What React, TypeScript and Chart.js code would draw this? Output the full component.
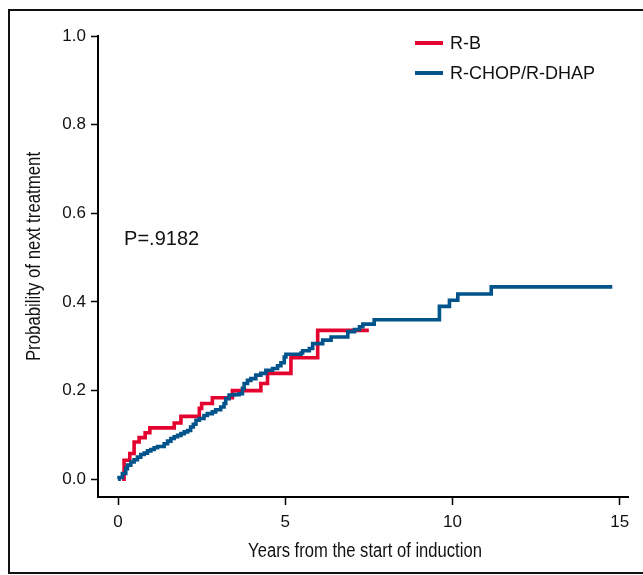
import React, { useEffect, useRef } from 'react';
import { Chart, registerables } from 'chart.js';

Chart.register(...registerables);

const SERIES_NAMES = ['R-B', 'R-CHOP/R-DHAP'];
const SERIES_COLORS = ['#E4032E', '#00538B'];

const RB_TIMES = [0.12, 0.18, 0.35, 0.48, 0.63, 0.81, 0.95, 1.68, 1.88, 2.43, 2.5, 2.82, 3.42, 4.27, 4.47, 5.17, 5.97, 7.5];
const RB_PROB = [0, 0.043, 0.058, 0.084, 0.094, 0.105, 0.116, 0.127, 0.142, 0.16, 0.171, 0.184, 0.2, 0.216, 0.239, 0.274, 0.336, 0.336];

const RCHOP_TIMES = [
  0, 0.03, 0.13, 0.23, 0.28, 0.38, 0.48, 0.58, 0.68, 0.78, 0.88, 0.98, 1.08, 1.18, 1.38, 1.48, 1.58, 1.68, 1.78, 1.88,
  1.98, 2.08, 2.17, 2.25, 2.33, 2.43, 2.57, 2.67, 2.82, 2.92, 3.07, 3.17, 3.22, 3.32, 3.47, 3.62, 3.72, 3.77, 3.87, 3.97,
  4.12, 4.27, 4.42, 4.62, 4.77, 4.87, 4.97, 5.02, 5.47, 5.52, 5.72, 5.82, 6.12, 6.37, 6.87, 7.07, 7.22, 7.32, 7.66, 9.61,
  9.91, 10.16, 11.16, 14.78,
];
const RCHOP_PROB = [
  0, 0.004, 0.013, 0.024, 0.032, 0.039, 0.044, 0.05, 0.056, 0.059, 0.064, 0.067, 0.071, 0.074, 0.08, 0.086, 0.092, 0.096, 0.099, 0.103,
  0.107, 0.11, 0.118, 0.124, 0.133, 0.137, 0.144, 0.148, 0.152, 0.157, 0.163, 0.171, 0.182, 0.19, 0.191, 0.193, 0.205, 0.216, 0.223, 0.227,
  0.235, 0.239, 0.246, 0.25, 0.256, 0.263, 0.276, 0.282, 0.285, 0.29, 0.295, 0.306, 0.314, 0.321, 0.333, 0.338, 0.344, 0.35, 0.36, 0.39,
  0.404, 0.418, 0.434, 0.434,
];

const X_TICKS = [0, 5, 10, 15];
const Y_TICKS = [0, 0.2, 0.4, 0.6, 0.8, 1.0];
const X_TITLE = 'Years from the start of induction';
const Y_TITLE = 'Probability of next treatment';
const P_VALUE_TEXT = 'P=.9182';
const P_VALUE_POS = { x: 0.18, y: 0.54 };

const SANS = "'Liberation Sans', Arial, Helvetica, sans-serif";

const toPoints = (xs: number[], ys: number[]) => xs.map((x, i) => ({ x, y: ys[i] }));

const legendPlugin = {
  id: 'customLegend',
  afterDatasetsDraw(chart: any) {
    const { ctx, chartArea } = chart;
    const x0 = chartArea.right - 213;
    const y0 = chartArea.top + 7;
    ctx.save();
    ctx.font = `18px ${SANS}`;
    ctx.textBaseline = 'middle';
    ctx.textAlign = 'left';
    chart.data.datasets.forEach((ds: any, i: number) => {
      const y = y0 + i * 30;
      ctx.strokeStyle = ds.borderColor;
      ctx.lineWidth = 4;
      ctx.beginPath();
      ctx.moveTo(x0, y);
      ctx.lineTo(x0 + 28, y);
      ctx.stroke();
      ctx.fillStyle = '#111';
      ctx.fillText(ds.label, x0 + 35, y + 1);
    });
    ctx.restore();
  },
};

const pValuePlugin = {
  id: 'pValue',
  afterDatasetsDraw(chart: any) {
    const { ctx, scales } = chart;
    const x = scales.x.getPixelForValue(P_VALUE_POS.x);
    const y = scales.y.getPixelForValue(P_VALUE_POS.y);
    ctx.save();
    ctx.font = `20px ${SANS}`;
    ctx.fillStyle = '#111';
    ctx.textBaseline = 'middle';
    ctx.textAlign = 'left';
    ctx.fillText(P_VALUE_TEXT, x, y);
    ctx.restore();
  },
};

const axisTitlePlugin = {
  id: 'axisTitles',
  afterDraw(chart: any) {
    const { ctx, chartArea } = chart;
    ctx.save();
    ctx.font = `20px ${SANS}`;
    ctx.fillStyle = '#111';
    ctx.textAlign = 'center';
    ctx.textBaseline = 'middle';

    ctx.save();
    ctx.translate((chartArea.left + chartArea.right) / 2 + 2, chartArea.bottom + 54);
    ctx.scale(0.83, 1);
    ctx.fillText(X_TITLE, 0, 0);
    ctx.restore();

    ctx.save();
    ctx.translate(26, (chartArea.top + chartArea.bottom) / 2 - 10);
    ctx.rotate(-Math.PI / 2);
    ctx.scale(0.84, 1);
    ctx.fillText(Y_TITLE, 0, 0);
    ctx.restore();

    ctx.restore();
  },
};

export default function App() {
  const canvasRef = useRef<HTMLCanvasElement | null>(null);

  useEffect(() => {
    if (!canvasRef.current) return;
    const chart = new Chart(canvasRef.current, {
      type: 'line',
      data: {
        datasets: [
          {
            label: SERIES_NAMES[0],
            data: toPoints(RB_TIMES, RB_PROB),
            borderColor: SERIES_COLORS[0],
            backgroundColor: SERIES_COLORS[0],
            borderWidth: 3.6,
            stepped: true,
            pointRadius: 0,
            fill: false,
            order: 1,
          },
          {
            label: SERIES_NAMES[1],
            data: toPoints(RCHOP_TIMES, RCHOP_PROB),
            borderColor: SERIES_COLORS[1],
            backgroundColor: SERIES_COLORS[1],
            borderWidth: 3.6,
            stepped: true,
            pointRadius: 0,
            fill: false,
            order: 0,
          },
        ],
      },
      options: {
        animation: false,
        responsive: true,
        maintainAspectRatio: false,
        layout: { padding: { top: 28, right: 15, left: 0, bottom: 0 } },
        plugins: {
          legend: { display: false },
          tooltip: { enabled: false },
        },
        scales: {
          x: {
            type: 'linear',
            min: -0.6,
            max: 15.25,
            afterBuildTicks: (scale: any) => {
              scale.ticks = X_TICKS.map((v) => ({ value: v }));
            },
            afterFit: (scale: any) => {
              scale.height = 78;
            },
            ticks: {
              color: '#111',
              font: { family: SANS, size: 17 },
              padding: 7,
              callback: (v: any) => String(v),
            },
            grid: {
              drawOnChartArea: false,
              drawTicks: true,
              tickLength: 8,
              tickWidth: 1.5,
              tickColor: '#000',
            },
            border: { display: true, color: '#000', width: 2 },
            title: { display: false },
          },
          y: {
            type: 'linear',
            min: -0.04,
            max: 1.0,
            afterBuildTicks: (scale: any) => {
              scale.ticks = Y_TICKS.map((v) => ({ value: v }));
            },
            afterFit: (scale: any) => {
              scale.width = 90;
            },
            ticks: {
              color: '#111',
              font: { family: SANS, size: 17 },
              padding: 5,
              callback: (v: any) => Number(v).toFixed(1),
            },
            grid: {
              drawOnChartArea: false,
              drawTicks: true,
              tickLength: 7,
              tickWidth: 1.5,
              tickColor: '#000',
            },
            border: { display: true, color: '#000', width: 2 },
            title: { display: false },
          },
        },
      },
      plugins: [legendPlugin, pValuePlugin, axisTitlePlugin],
    } as any);
    return () => chart.destroy();
  }, []);

  return (
    <div style={{ position: 'fixed', left: 0, top: 0, width: 643, height: 575, overflow: 'hidden', background: '#fff' }}>
      <div
        style={{
          position: 'absolute',
          left: 8,
          top: 9,
          width: 700,
          height: 565,
          border: '2px solid #111',
          boxSizing: 'border-box',
          pointerEvents: 'none',
        }}
      />
      <div style={{ position: 'absolute', left: 8, top: 8, width: 635, height: 567 }}>
        <canvas ref={canvasRef} />
      </div>
    </div>
  );
}
